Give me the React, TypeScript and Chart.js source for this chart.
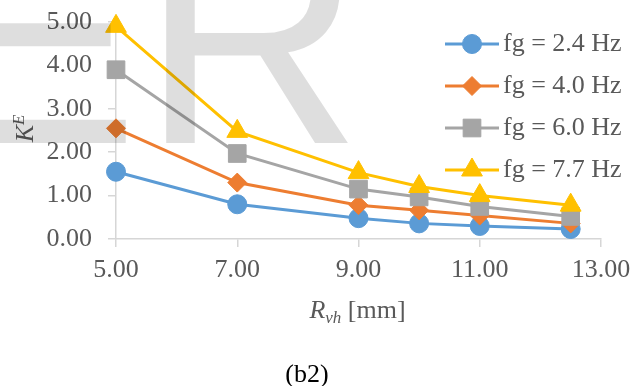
import React, { useEffect, useRef } from 'react';
import { Chart, registerables } from 'chart.js';
import { drawPoint } from 'chart.js/helpers';

Chart.register(...registerables);

// Gap radius R_vh [mm] on the x axis
const radiusMm = [5, 7, 9, 10, 11, 12.5];
// Excitation frequencies fg [Hz], one series each
const frequenciesHz = [2.4, 4.0, 6.0, 7.7];
// K^E values per frequency
const kE_fg24 = [1.55, 0.8, 0.48, 0.36, 0.3, 0.23];
const kE_fg40 = [2.55, 1.3, 0.78, 0.66, 0.54, 0.36];
const kE_fg60 = [3.9, 1.97, 1.15, 0.97, 0.75, 0.52];
const kE_fg77 = [4.9, 2.48, 1.53, 1.21, 1.0, 0.78];
const seriesValues = [kE_fg24, kE_fg40, kE_fg60, kE_fg77];

const xMin = 5;
const xMax = 13;
const xStep = 2;
const yMin = 0;
const yMax = 5;
const yStep = 1;

const seriesColors = ['#5B9BD5', '#ED7D31', '#A5A5A5', '#FFC000'];
const markerStyles = ['circle', 'rectRot', 'rect', 'triangle'];
const markerRadii = [9.5, 9.5, 12.5, 12];

const SERIF = '"Liberation Serif", "Times New Roman", serif';
const SANS = '"Liberation Sans", Arial, sans-serif';
const TEXT = '#595959';
const AXIS = '#d6d6d6';

const captionText = '(b2)';
const watermarkLetters = ['E', 'R'];

function clearScalePadding(s: any) {
  s.paddingLeft = 0;
  s.paddingRight = 0;
  s.paddingTop = 0;
  s.paddingBottom = 0;
}

function drawOverlay(chart: any) {
  const ctx: CanvasRenderingContext2D = chart.ctx;
  const area = chart.chartArea;
  ctx.save();

  // Legend: line sample with marker, then label
  chart.data.datasets.forEach((ds: any, i: number) => {
    const y = 44 + 42 * i;
    ctx.strokeStyle = ds.borderColor;
    ctx.lineWidth = 3;
    ctx.lineCap = 'butt';
    ctx.beginPath();
    ctx.moveTo(445, y);
    ctx.lineTo(499, y);
    ctx.stroke();
    ctx.fillStyle = ds.pointBackgroundColor;
    ctx.strokeStyle = ds.pointBorderColor;
    ctx.lineWidth = 1;
    drawPoint(ctx, { pointStyle: ds.pointStyle, rotation: 0, radius: ds.pointRadius, borderWidth: 1 } as any, 472, y);
    ctx.fillStyle = TEXT;
    ctx.font = `26px ${SERIF}`;
    ctx.textAlign = 'left';
    ctx.textBaseline = 'middle';
    ctx.fillText(ds.label, 503, y);
  });

  // X axis title: R_vh [mm]
  ctx.textBaseline = 'alphabetic';
  ctx.textAlign = 'left';
  ctx.fillStyle = TEXT;
  const fMain = `italic 26px ${SERIF}`;
  const fSub = `italic 17px ${SERIF}`;
  const fRest = `26px ${SERIF}`;
  ctx.font = fMain; const wR = ctx.measureText('R').width;
  ctx.font = fSub; const wSub = ctx.measureText('vh').width;
  ctx.font = fRest; const wRest = ctx.measureText(' [mm]').width;
  const cx = (area.left + area.right) / 2 - 1;
  let x0 = cx - (wR + wSub + wRest) / 2;
  const base = 318;
  ctx.font = fMain; ctx.fillText('R', x0, base); x0 += wR;
  ctx.font = fSub; ctx.fillText('vh', x0, base + 5); x0 += wSub;
  ctx.font = fRest; ctx.fillText(' [mm]', x0, base);

  // Y axis title: K^E, rotated
  ctx.font = fMain; const wK = ctx.measureText('K').width;
  ctx.font = fSub; const wE = ctx.measureText('E').width;
  const cy = (area.top + area.bottom) / 2 - 2;
  ctx.save();
  ctx.translate(33, cy + (wK + wE) / 2);
  ctx.rotate(-Math.PI / 2);
  ctx.font = fMain; ctx.fillText('K', 0, 0);
  ctx.font = fSub; ctx.fillText('E', wK, -9);
  ctx.restore();

  // Caption
  ctx.fillStyle = '#000';
  ctx.font = `26px ${SERIF}`;
  ctx.textAlign = 'center';
  ctx.fillText(captionText, 307, 382);

  // Faint oversized lettering laid over the plot
  ctx.textAlign = 'left';
  ctx.font = `300px ${SANS}`;
  const capAt300 = ctx.measureText('E').actualBoundingBoxAscent || 215;
  const size = Math.round(300 * 215 / capAt300);
  ctx.font = `${size}px ${SANS}`;
  ctx.fillStyle = 'rgba(0,0,0,0.13)';
  const baseline = 143;
  const mFirst = ctx.measureText(watermarkLetters[0]);
  const mSecond = ctx.measureText(watermarkLetters[1]);
  ctx.fillText(watermarkLetters[0], 126 - mFirst.actualBoundingBoxRight, baseline);
  ctx.fillText(watermarkLetters[1], 165 + mSecond.actualBoundingBoxLeft, baseline);

  ctx.restore();
}

export default function App() {
  const canvasRef = useRef<HTMLCanvasElement>(null);

  useEffect(() => {
    const datasets = seriesValues.map((vals, i) => ({
      label: `fg = ${frequenciesHz[i].toFixed(1)} Hz`,
      data: radiusMm.map((x, j) => ({ x, y: vals[j] })),
      borderColor: seriesColors[i],
      backgroundColor: seriesColors[i],
      pointBackgroundColor: seriesColors[i],
      pointBorderColor: seriesColors[i],
      pointStyle: markerStyles[i],
      pointRadius: markerRadii[i],
      pointBorderWidth: 1,
      borderWidth: 3,
      tension: 0,
      clip: false,
      order: seriesValues.length - i,
    }));

    const chart = new Chart(canvasRef.current!, {
      type: 'line',
      data: { datasets } as any,
      options: {
        responsive: false,
        devicePixelRatio: 1,
        animation: false,
        layout: { autoPadding: false, padding: { top: 22, right: 31, left: 0, bottom: 0 } },
        plugins: { legend: { display: false }, tooltip: { enabled: false } },
        scales: {
          x: {
            type: 'linear',
            min: xMin,
            max: xMax,
            afterFit: (s: any) => { s.height = 147; clearScalePadding(s); },
            ticks: {
              stepSize: xStep,
              padding: 8,
              color: TEXT,
              font: { family: SERIF, size: 26 },
              callback: (v: any) => Number(v).toFixed(2),
              maxRotation: 0,
            },
            grid: { drawOnChartArea: false, drawTicks: true, tickLength: 8, color: AXIS, lineWidth: 1.5 },
            border: { color: AXIS, width: 1.5 },
          },
          y: {
            type: 'linear',
            min: yMin,
            max: yMax,
            afterFit: (s: any) => { s.width = 116; clearScalePadding(s); },
            ticks: {
              stepSize: yStep,
              padding: 16,
              color: TEXT,
              font: { family: SERIF, size: 26 },
              callback: (v: any) => Number(v).toFixed(2),
            },
            grid: { drawOnChartArea: false, drawTicks: true, tickLength: 8, color: AXIS, lineWidth: 1.5 },
            border: { color: AXIS, width: 1.5 },
          },
        },
      } as any,
      plugins: [{ id: 'figureOverlay', afterDraw: drawOverlay }],
    });

    return () => chart.destroy();
  }, []);

  return (
    <div style={{ position: 'fixed', left: 0, top: 0, width: 632, height: 386, background: '#fff' }}>
      <canvas ref={canvasRef} width={632} height={386} style={{ display: 'block' }} />
    </div>
  );
}
